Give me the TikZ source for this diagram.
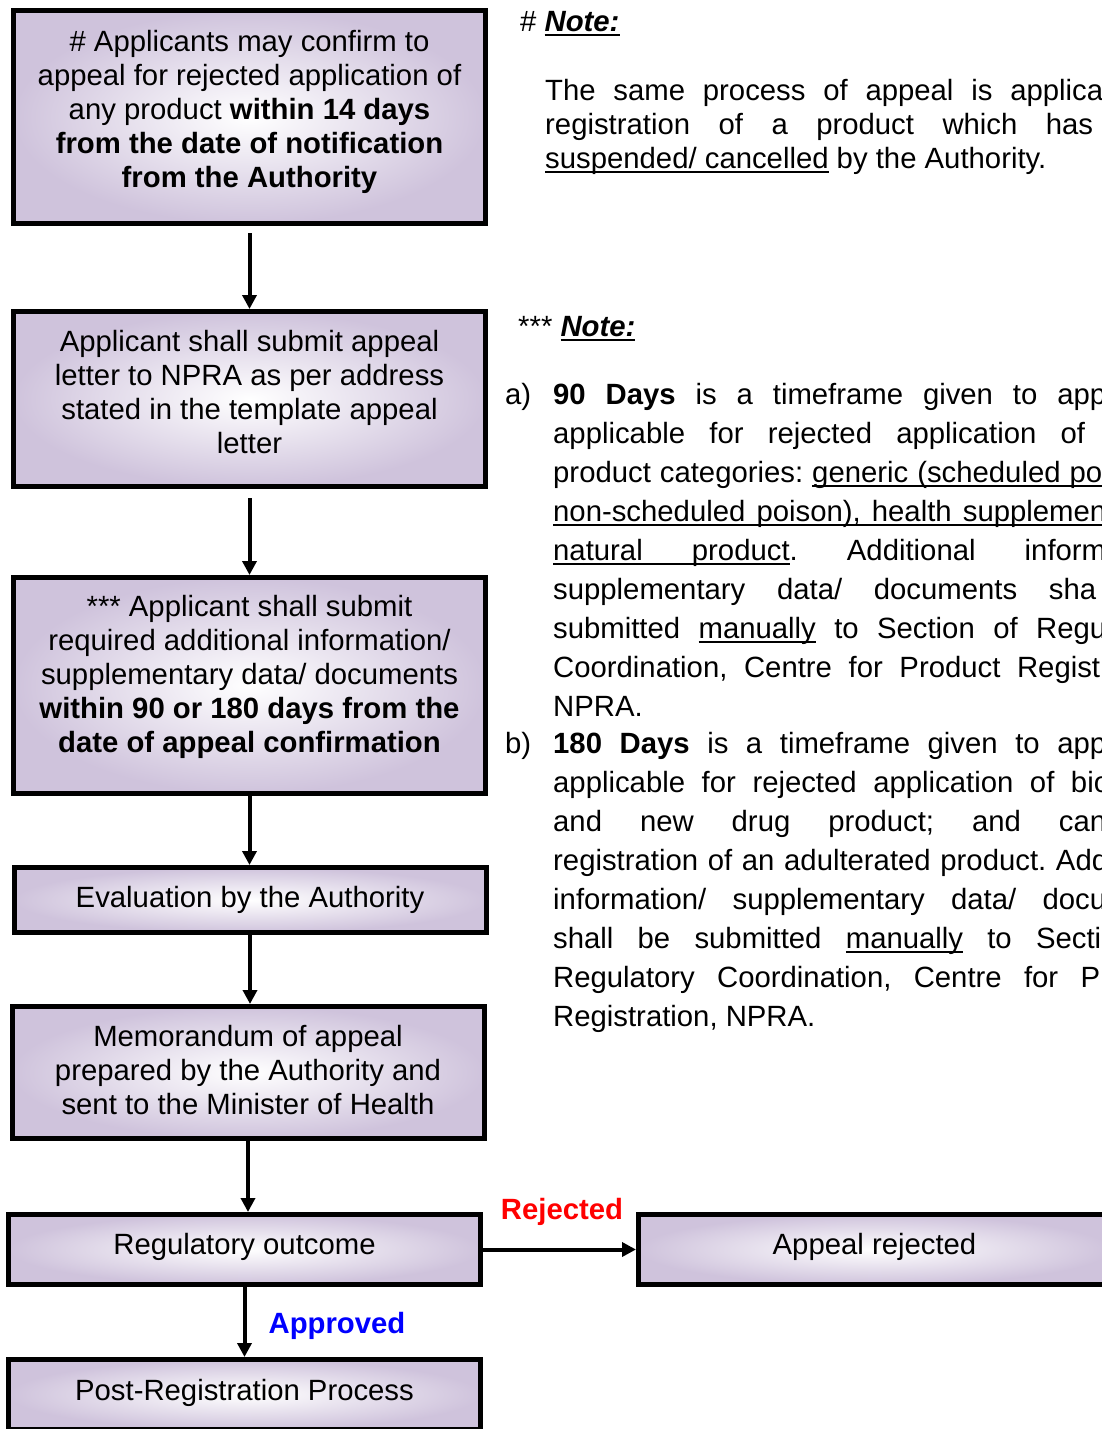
\documentclass[tikz,border=0pt]{standalone}
\usepackage{fontspec}
\setmainfont{Liberation Sans}
\usetikzlibrary{arrows.meta}
\definecolor{boxlav}{RGB}{207,195,220}
\newcommand\boxfont{\fontsize{29.3}{34}\selectfont}
% underlined word and underlined (stretchable) space
\newlength\ulwd
\newcommand\ulw[1]{\settowidth\ulwd{#1}\rlap{\rule[-4pt]{\ulwd}{1.8pt}}#1}
\newcommand\uls{\leaders\hrule height -2.2pt depth 4pt\hskip\fontdimen2\font plus\fontdimen3\font minus\fontdimen4\font\relax}
% extra depth on the last line, lifts the text in its box
\newcommand\strutdp[1]{\rule[-#1pt]{0pt}{#1pt}}
\begin{document}
\frenchspacing
\begin{tikzpicture}[x=1pt, y=-1pt, >={Triangle[length=14pt,width=14pt]}, font=\boxfont,
	box/.style={draw, line width=5pt, shade, shading=radial, inner color=white, outer color=boxlav, minimum width=472pt, align=center},
	flow/.style={->, line width=4pt},
	txt/.style={anchor=base west, inner sep=0pt}]
	\useasboundingbox (0,0) rectangle (1102,1429);
	\clip (0,0) rectangle (1102,1429);
	% flow chart
	\node[box, minimum height=213pt] (confirm) at (249.5,117) {\# Applicants may confirm to\\ appeal for rejected application of\\ any product \textbf{within 14 days}\\ \textbf{from the date of notification}\\ \textbf{from the Authority}\strutdp{16}};
	\node[box, minimum height=175pt] (letter) at (249.5,399) {Applicant shall submit appeal\\ letter to NPRA as per address\\ stated in the template appeal\\ letter\strutdp{14}};
	\node[box, minimum height=216pt] (addinfo) at (249.5,685.5) {*** Applicant shall submit\\ required additional information/\\ supplementary data/ documents\\ \textbf{within 90 or 180 days from the}\\ \textbf{date of appeal confirmation}\strutdp{24}};
	\node[box, minimum height=65pt] (evaluate) at (250,900) {Evaluation by the Authority};
	\node[box, minimum height=132pt] (memo) at (248,1072.5) {Memorandum of appeal\\ prepared by the Authority and\\ sent to the Minister of Health\strutdp{6}};
	\node[box, minimum height=70pt] (outcome) at (244.5,1249.5) {Regulatory outcome\strutdp{12}};
	\node[box, minimum height=70pt] (postreg) at (244.5,1394.5) {Post-Registration Process\strutdp{10}};
	\node[box, minimum height=70pt] (rejected) at (874.5,1249.5) {Appeal rejected\strutdp{12}};
	\draw[flow, shorten <=7pt] (confirm) -- (letter);
	\draw[flow, shorten <=9pt] (letter) -- (addinfo);
	\draw[flow] (addinfo.south) -- (addinfo.south |- evaluate.north);
	\draw[flow] (evaluate.south) -- (evaluate.south |- memo.north);
	\draw[flow] (memo.south) -- (memo.south |- outcome.north);
	\draw[flow] (outcome) -- (postreg);
	\draw[flow] (outcome) -- (rejected);
	\node[anchor=base, text=red, font=\boxfont\bfseries] (rejlabel) at (562,1219.5) {Rejected};
	\node[anchor=base, text=blue, font=\boxfont\bfseries] (applabel) at (337,1333.5) {Approved};
	% notes
	\node[txt] (hashnote) at (520,32) {\# \ulw{\textbf{\textit{Note:}}}};
	\foreach \w/\t [count=\i from 0] in {
		558/{The same process of appeal is applica},
		548/{registration of a product which has}}{
		\node[txt] (same\i) at (545,100.5+34*\i) {\makebox[\w pt][s]{\t}};
	}
	\node[txt] (same2) at (545,168.5) {\ulw{suspended/}\uls\ulw{cancelled} by the Authority.};
	\node[txt] (starnote) at (518,336.5) {*** \ulw{\textbf{\textit{Note:}}}};
	\node[txt] (itema) at (505,404.5) {a)};
	\foreach \w/\t [count=\i from 0] in {
		553/{\textbf{90 Days} is a timeframe given to app},
		532/{applicable for rejected application of},
		549/{product categories: \ulw{generic}\uls\ulw{(scheduled}\uls\ulw{po}},
		553/{\ulw{non-scheduled}\uls\ulw{poison),}\uls\ulw{health}\uls\ulw{supplemen}},
		553/{\ulw{natural}\uls\ulw{product}. Additional inform},
		543/{supplementary data/ documents sha},
		553/{submitted \ulw{manually} to Section of Regu},
		547/{Coordination, Centre for Product Regist}}{
		\node[txt] (a\i) at (553,404.5+39*\i) {\makebox[\w pt][s]{\t}};
	}
	\node[txt] (a8) at (553,716.5) {NPRA.};
	\node[txt] (itemb) at (505,753.5) {b)};
	\foreach \w/\t [count=\i from 0] in {
		553/{\textbf{180 Days} is a timeframe given to app},
		557/{applicable for rejected application of bio},
		553/{and new drug product; and can},
		555/{registration of an adulterated product. Add},
		553/{information/ supplementary data/ docu},
		548/{shall be submitted \ulw{manually} to Secti},
		547/{Regulatory Coordination, Centre for P}}{
		\node[txt] (b\i) at (553,753.5+39*\i) {\makebox[\w pt][s]{\t}};
	}
	\node[txt] (b7) at (553,1026.5) {Registration, NPRA.};
\end{tikzpicture}
\end{document}
